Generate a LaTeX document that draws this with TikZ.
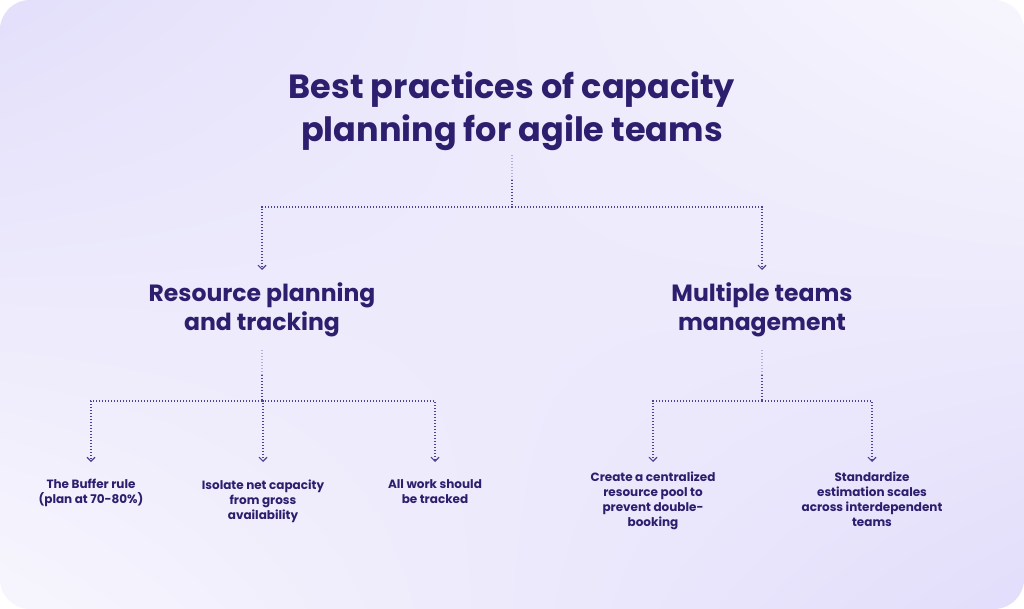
\documentclass[tikz,border=0pt]{standalone}
\usepackage{fontspec}
\setmainfont{Poppins}
\usetikzlibrary{arrows.meta,shadings}
\definecolor{ink}{HTML}{2D1E6E}
\definecolor{lineink}{HTML}{4F4391}
\definecolor{fadeink}{HTML}{B6AFDD}
\definecolor{bgA}{HTML}{E3DFFB}
\definecolor{bgB}{HTML}{F7F6FD}
\definecolor{bgC}{HTML}{E2DDFB}
\tikzset{
  titletext/.style={text=ink, font=\fontsize{33.5}{43}\selectfont\bfseries, align=center},
  subtext/.style={text=ink, font=\fontsize{23.5}{29.5}\selectfont\bfseries, align=center},
  leaftext/.style={text=ink, font=\fontsize{12}{15}\selectfont\bfseries, align=center},
  link/.style={draw=lineink, line width=1.1pt, dash pattern=on 1.1pt off 1.9pt},
  fadelink/.style={draw=fadeink, line width=1.1pt, dash pattern=on 1.1pt off 1.9pt},
  arrowlink/.style={link, -{Straight Barb[length=4pt,width=8pt,line width=1.1pt]}}
}
\begin{document}
\begin{tikzpicture}[x=1pt,y=-1pt]
\useasboundingbox (0,0) rectangle (1024,609);
\fill[white] (0,0) rectangle (1024,609);
\shade[rounded corners=30pt, upper left=bgA, upper right=bgB, lower left=bgB, lower right=bgC] (0,0) rectangle (1024,609);

% title
\node[titletext] (title) at (512,111) {Best practices of capacity\\planning for agile teams};
% level 2
\node[subtext] (res) at (262,310) {Resource planning\\and tracking};
\node[subtext] (multi) at (762,310) {Multiple teams\\management};
% leaves
\node[leaftext, anchor=north] (buf) at (91,476) {The Buffer rule\\(plan at 70-80\%)};
\node[leaftext, anchor=north] (iso) at (263,476) {Isolate net capacity\\from gross\\availability};
\node[leaftext, anchor=north] (all) at (435,476) {All work should\\be tracked};
\node[leaftext, anchor=north] (pool) at (653,468) {Create a centralized\\resource pool to\\prevent double-\\booking};
\node[leaftext, anchor=north] (std) at (872,468) {Standardize\\estimation scales\\across interdependent\\teams};

% coordinates
\coordinate (t0) at (512,155);
\coordinate (t1) at (512,180);
\coordinate (tj) at (512,207);
\coordinate (r0) at (262,350);
\coordinate (r1) at (262,375);
\coordinate (rj) at (262,401);
\coordinate (m0) at (762,350);
\coordinate (m1) at (762,375);
\coordinate (mj) at (762,401);
\coordinate (lvltwo) at (0,270);
\coordinate (lvlthree) at (0,462);

% title connectors
\draw[fadelink] (t0) -- (t1);
\draw[link] (t1) -- (tj);
\draw[arrowlink] (tj) -| (res |- lvltwo);
\draw[arrowlink] (tj) -| (multi |- lvltwo);

% left connectors
\draw[fadelink] (r0) -- (r1);
\draw[link] (r1) -- (rj);
\draw[arrowlink] (rj) -| (buf |- lvlthree);
\draw[arrowlink] (rj) -| (iso |- lvlthree);
\draw[arrowlink] (rj) -| (all |- lvlthree);

% right connectors
\draw[fadelink] (m0) -- (m1);
\draw[link] (m1) -- (mj);
\draw[arrowlink] (mj) -| (pool |- lvlthree);
\draw[arrowlink] (mj) -| (std |- lvlthree);
\end{tikzpicture}
\end{document}
